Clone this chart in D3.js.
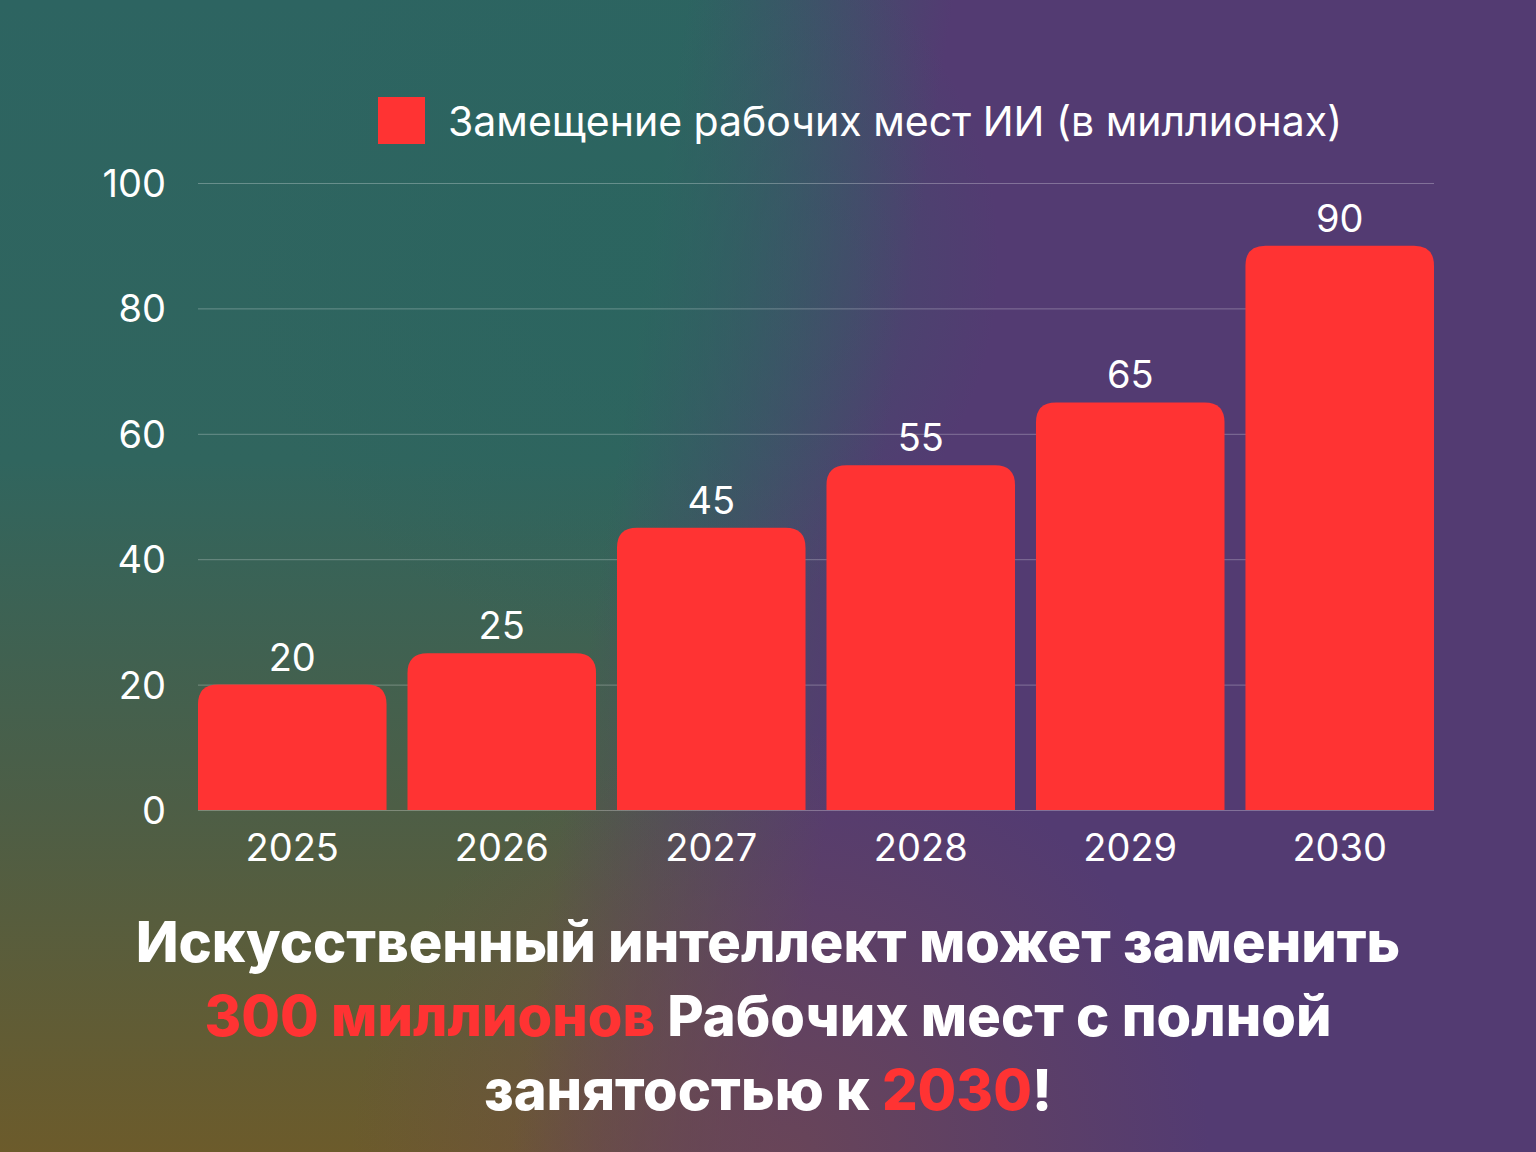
<!DOCTYPE html>
<html>
<head>
<meta charset="utf-8">
<script src="https://cdn.jsdelivr.net/npm/d3@7"></script>
<style>
  html, body { margin: 0; padding: 0; background: #553a72; }
  svg { display: block; }
  text { font-family: Inter, "Noto Sans", sans-serif; }
</style>
</head>
<body>
<div id="chart"></div>
<script>
// data
var years = ["2025", "2026", "2027", "2028", "2029", "2030"];
var jobsReplaced = [20, 25, 45, 55, 65, 90];
var yTicks = [0, 20, 40, 60, 80, 100];
var legendLabel = "Замещение рабочих мест ИИ (в миллионах)";
var titleLines = [
	[["Искусственный интеллект может заменить", false]],
	[["300 миллионов", true], [" Рабочих мест с полной", false]],
	[["занятостью к ", false], ["2030", true], ["!", false]]
];

var W = 1536, H = 1152;
var barColor = "#ff3333";

var svg = d3.select("#chart").append("svg")
	.attr("width", W)
	.attr("height", H);

// background: teal->olive on the left, purple on the right
var defs = svg.append("defs");

function linear(id, xa, ya, xb, yb, stops) {
	var g = defs.append("linearGradient")
		.attr("id", id)
		.attr("gradientUnits", "userSpaceOnUse")
		.attr("x1", xa).attr("y1", ya).attr("x2", xb).attr("y2", yb);
	stops.forEach(function(s) {
		g.append("stop").attr("offset", s[0]).attr("stop-color", s[1]).attr("stop-opacity", s[2]);
	});
}
function glow(id, cx, cy, r, color, op) {
	var g = defs.append("radialGradient")
		.attr("id", id)
		.attr("gradientUnits", "userSpaceOnUse")
		.attr("cx", cx).attr("cy", cy).attr("r", r);
	g.append("stop").attr("offset", "0%").attr("stop-color", color).attr("stop-opacity", op);
	g.append("stop").attr("offset", "100%").attr("stop-color", color).attr("stop-opacity", 0);
}

linear("leftside", 0, 0, 0, H, [
	["0%", "#2d6461", 1],
	["40%", "#30655e", 1],
	["70%", "#4d5e46", 1],
	["100%", "#6c5b2b", 1]
]);
linear("purple", 620, 440, 880, 480, [
	["0%", "#543b72", 0],
	["100%", "#533b72", 1]
]);
glow("teal", 620, 260, 380, "#2a6560", 0.7);
glow("mauve", 780, 1160, 430, "#70484f", 0.75);

svg.append("rect").attr("width", W).attr("height", H).attr("fill", "url(#leftside)");
svg.append("rect").attr("width", W).attr("height", H).attr("fill", "url(#purple)");
svg.append("rect").attr("width", W).attr("height", H).attr("fill", "url(#teal)");
svg.append("rect").attr("width", W).attr("height", H).attr("fill", "url(#mauve)");

// plot area
var x0 = 198, x1 = 1434, yTop = 183, yBot = 810;

var x = d3.scaleBand()
	.domain(years)
	.range([x0, x1])
	.paddingInner(0.1)
	.paddingOuter(0);

var y = d3.scaleLinear()
	.domain([0, 100])
	.range([yBot, yTop]);

// gridlines
svg.append("g")
	.selectAll("line")
	.data(yTicks)
	.enter()
	.append("line")
	.attr("x1", x0)
	.attr("x2", x1)
	.attr("y1", function(d) { return y(d) + 0.5; })
	.attr("y2", function(d) { return y(d) + 0.5; })
	.attr("stroke", "rgba(255,255,255,0.28)")
	.attr("stroke-width", 1);

// y axis labels
svg.append("g")
	.selectAll("text")
	.data(yTicks)
	.enter()
	.append("text")
	.attr("x", 166)
	.attr("y", function(d) { return y(d) + 14; })
	.attr("text-anchor", "end")
	.attr("fill", "#ffffff")
	.attr("font-size", 38)
	.text(function(d) { return d; });

// bars, rounded on top only
var r = 20;
function barPath(d, i) {
	var bx = x(years[i]), bw = x.bandwidth();
	var top = y(d), bot = y(0);
	return "M" + bx + "," + bot +
		"V" + (top + r) +
		"Q" + bx + "," + top + " " + (bx + r) + "," + top +
		"H" + (bx + bw - r) +
		"Q" + (bx + bw) + "," + top + " " + (bx + bw) + "," + (top + r) +
		"V" + bot + "Z";
}

svg.append("g")
	.selectAll("path")
	.data(jobsReplaced)
	.enter()
	.append("path")
	.attr("d", barPath)
	.attr("fill", barColor);

// value labels
svg.append("g")
	.selectAll("text")
	.data(jobsReplaced)
	.enter()
	.append("text")
	.attr("x", function(d, i) { return x(years[i]) + x.bandwidth() / 2; })
	.attr("y", function(d) { return y(d) - 14; })
	.attr("text-anchor", "middle")
	.attr("fill", "#ffffff")
	.attr("font-size", 38)
	.text(function(d) { return d; });

// x axis labels
svg.append("g")
	.selectAll("text")
	.data(years)
	.enter()
	.append("text")
	.attr("x", function(d) { return x(d) + x.bandwidth() / 2; })
	.attr("y", 861)
	.attr("text-anchor", "middle")
	.attr("fill", "#ffffff")
	.attr("font-size", 38)
	.text(function(d) { return d; });

// legend
svg.append("rect")
	.attr("x", 378).attr("y", 97)
	.attr("width", 47).attr("height", 47)
	.attr("fill", barColor);
svg.append("text")
	.attr("x", 448)
	.attr("y", 136)
	.attr("fill", "#ffffff")
	.attr("font-size", 41)
	.text(legendLabel);

// title
var title = svg.append("text")
	.attr("text-anchor", "middle")
	.attr("font-size", 56)
	.attr("font-weight", 800)
	.attr("fill", "#ffffff");

titleLines.forEach(function(line, li) {
	var row = title.append("tspan")
		.attr("x", W / 2)
		.attr("y", 962 + li * 74);
	line.forEach(function(part) {
		row.append("tspan")
			.attr("fill", part[1] ? barColor : "#ffffff")
			.text(part[0]);
	});
});
</script>
</body>
</html>
